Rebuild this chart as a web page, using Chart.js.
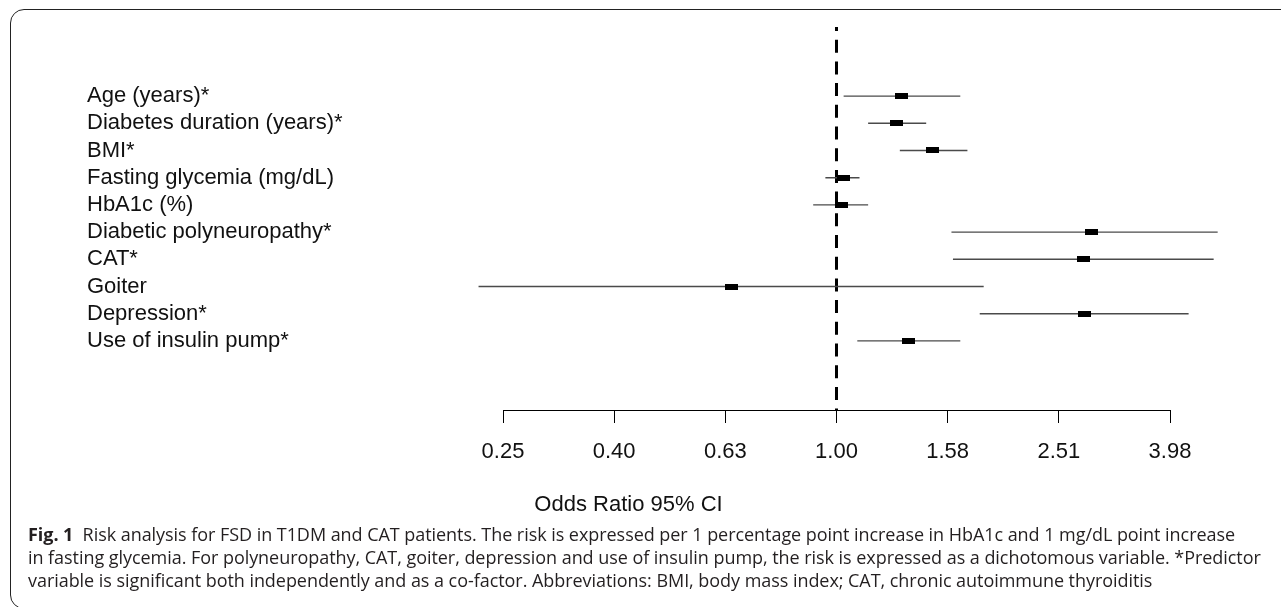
<!DOCTYPE html>
<html>
<head>
<meta charset="utf-8">
<script src="https://cdn.jsdelivr.net/npm/chart.js@4.4.1/dist/chart.umd.min.js"></script>
<style>
  html, body { margin: 0; padding: 0; background: #fff; }
  #wrap { position: relative; width: 1281px; height: 607px; overflow: hidden; }
  #frame {
    position: absolute; left: 10px; top: 9px; width: 1320px; height: 600px;
    border: 1.4px solid #222; border-radius: 14px; box-sizing: border-box;
  }
  #forest { position: absolute; left: 0; top: 0; }
  #caption {
    position: absolute; left: 28px; top: 523px;
    font-family: "Open Sans", "Noto Sans", sans-serif; font-size: 18px; line-height: 23px;
    letter-spacing: -0.05px; color: #231f20; white-space: nowrap;
  }
  #caption b { font-weight: 700; }
</style>
</head>
<body>
<div id="wrap">
  <div id="frame"></div>
  <canvas id="forest" width="1281" height="607"></canvas>
  <div id="caption">
    <div><b>Fig. 1</b>&nbsp; Risk analysis for FSD in T1DM and CAT patients. The risk is expressed per 1 percentage point increase in HbA1c and 1 mg/dL point increase</div>
    <div>in fasting glycemia. For polyneuropathy, CAT, goiter, depression and use of insulin pump, the risk is expressed as a dichotomous variable. *Predictor</div>
    <div>variable is significant both independently and as a co-factor. Abbreviations: BMI, body mass index; CAT, chronic autoimmune thyroiditis</div>
  </div>
</div>
<script>
const categories = [
  "Age (years)*",
  "Diabetes duration (years)*",
  "BMI*",
  "Fasting glycemia (mg/dL)",
  "HbA1c (%)",
  "Diabetic polyneuropathy*",
  "CAT*",
  "Goiter",
  "Depression*",
  "Use of insulin pump*",
];
const oddsRatios = [1.31, 1.28, 1.49, 1.03, 1.02, 2.87, 2.78, 0.646, 2.79, 1.35];
const ciLower = [1.03, 1.14, 1.30, 0.955, 0.908, 1.61, 1.62, 0.227, 1.81, 1.09];
const ciUpper = [1.67, 1.45, 1.72, 1.10, 1.14, 4.85, 4.77, 1.84, 4.30, 1.67];

const xTickValues = [0.2512, 0.3981, 0.631, 1, 1.585, 2.512, 3.981];
const xTickLabels = ["0.25", "0.40", "0.63", "1.00", "1.58", "2.51", "3.98"];
const refValue = 1;
const rowMin = -2.54;
const rowMax = 11.54;

const FONT = "'Liberation Sans', Arial, Helvetica, sans-serif";

// little black rectangle used as the point marker
const boxMark = document.createElement("canvas");
boxMark.width = 13;
boxMark.height = 6;
const bctx = boxMark.getContext("2d");
bctx.fillStyle = "#000";
bctx.fillRect(0, 0, 13, 6);

const ciDatasets = categories.map((label, i) => ({
  type: "line",
  label: label + " CI",
  data: [{ x: ciLower[i], y: i }, { x: ciUpper[i], y: i }],
  borderColor: "#4a4a4a",
  borderWidth: 1.4,
  pointRadius: 0,
  clip: false,
  order: 1,
}));

const ctx = document.getElementById("forest").getContext("2d");
new Chart(ctx, {
  type: "scatter",
  data: {
    datasets: [
      {
        label: "Odds ratio",
        data: oddsRatios.map((v, i) => ({ x: v, y: i })),
        pointStyle: boxMark,
        clip: false,
        order: 0,
      },
      ...ciDatasets,
      {
        type: "line",
        label: "No effect",
        data: [{ x: refValue, y: rowMin }, { x: refValue, y: rowMax }],
        borderColor: "#000",
        borderWidth: 3,
        borderDash: [13, 8.7],
        borderDashOffset: 9,
        pointRadius: 0,
        clip: false,
        order: 2,
      },
    ],
  },
  options: {
    responsive: false,
    devicePixelRatio: 1,
    animation: false,
    layout: { padding: { left: 87, right: 111, top: 27, bottom: 88.8 } },
    scales: {
      x: {
        type: "logarithmic",
        min: xTickValues[0],
        max: xTickValues[xTickValues.length - 1],
        afterBuildTicks: (scale) => {
          scale.ticks = xTickValues.map((v) => ({ value: v }));
        },
        afterFit: (scale) => {
          scale.height = 60;
        },
        ticks: {
          autoSkip: false,
          maxRotation: 0,
          padding: 16,
          color: "#111",
          font: { family: FONT, size: 22 },
          callback: (value, index) => xTickLabels[index],
        },
        grid: { drawOnChartArea: false, drawTicks: true, tickLength: 13, color: "#000", lineWidth: 1 },
        border: { display: true, color: "#000", width: 1 },
      },
      y: {
        type: "linear",
        reverse: true,
        min: rowMin,
        max: rowMax,
        afterBuildTicks: (scale) => {
          scale.ticks = categories.map((c, i) => ({ value: i }));
        },
        afterFit: (scale) => {
          scale.width = 503 - 87;
        },
        ticks: {
          crossAlign: "far",
          padding: 0,
          color: "#111",
          font: { family: FONT, size: 22 },
          callback: (value) => categories[value],
        },
        grid: { display: false },
        border: { display: false },
      },
    },
    plugins: {
      legend: { display: false },
      tooltip: { enabled: false },
      title: {
        display: true,
        position: "bottom",
        text: "Odds Ratio 95% CI",
        color: "#111",
        font: { family: FONT, size: 22, weight: "normal" },
        padding: { top: 21.8, bottom: 0 },
      },
    },
  },
});
</script>
</body>
</html>
